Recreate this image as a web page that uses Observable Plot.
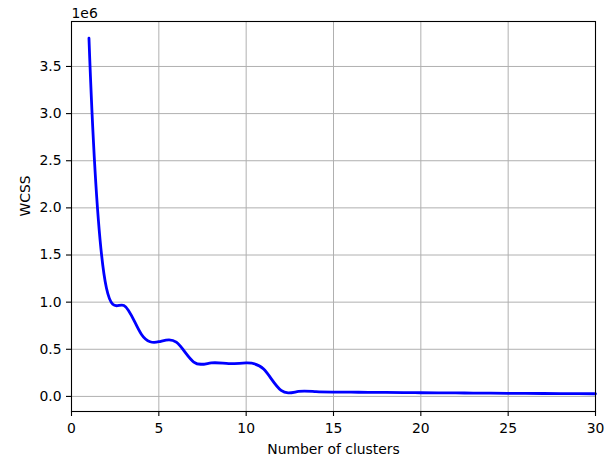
<!DOCTYPE html>
<html><head><meta charset="utf-8">
<script src="https://cdn.jsdelivr.net/npm/d3@7"></script>
<script src="https://cdn.jsdelivr.net/npm/@observablehq/plot@0.6"></script>
<style>html,body{margin:0;padding:0;background:#fff} svg{display:block}</style>
</head><body><div id="chart"></div>
<script>
const clusters = [1,2,3,4,5,6,7,8,9,10,11,12,13,14,15,16,17,18,19,20,21,22,23,24,25,26,27,28,29,30];
const wcss = [3800000,1150000,965000,660000,580000,575000,365000,355000,348000,355000,290000,64000,53000,50000,46000,45000,43000,42000,40000,39000,38000,37000,35000,34000,33000,32000,31000,30000,29000,28000];
const xTicks = [0,5,10,15,20,25,30];
const yTicks = [0,500000,1000000,1500000,2000000,2500000,3000000,3500000];
const xLabel = "Number of clusters";
const yLabel = "WCSS";
const yExponent = "1e6";

const data = clusters.map((k, i) => ({k, w: wcss[i]}));

// Cubic spline with "not-a-knot" end conditions, as a d3-style curve for Plot
function notAKnot(context) {
  let xs, ys;
  return {
    areaStart() {}, areaEnd() {},
    lineStart() { xs = []; ys = []; },
    point(x, y) { xs.push(+x); ys.push(+y); },
    lineEnd() {
      const n = xs.length;
      if (!n) return;
      context.moveTo(xs[0], ys[0]);
      if (n < 4) { for (let i = 1; i < n; i++) context.lineTo(xs[i], ys[i]); return; }
      const h = [];
      for (let i = 0; i < n - 1; i++) h.push(xs[i + 1] - xs[i]);
      const A = Array.from({length: n}, () => new Array(n).fill(0));
      const b = new Array(n).fill(0);
      A[0][0] = h[1]; A[0][1] = -(h[0] + h[1]); A[0][2] = h[0];
      for (let i = 1; i < n - 1; i++) {
        A[i][i - 1] = h[i - 1];
        A[i][i] = 2 * (h[i - 1] + h[i]);
        A[i][i + 1] = h[i];
        b[i] = 6 * ((ys[i + 1] - ys[i]) / h[i] - (ys[i] - ys[i - 1]) / h[i - 1]);
      }
      A[n - 1][n - 3] = h[n - 2]; A[n - 1][n - 2] = -(h[n - 3] + h[n - 2]); A[n - 1][n - 1] = h[n - 3];
      for (let c = 0; c < n; c++) {
        let p = c;
        for (let r = c + 1; r < n; r++) if (Math.abs(A[r][c]) > Math.abs(A[p][c])) p = r;
        [A[c], A[p]] = [A[p], A[c]]; [b[c], b[p]] = [b[p], b[c]];
        for (let r = c + 1; r < n; r++) {
          const f = A[r][c] / A[c][c];
          if (!f) continue;
          for (let k = c; k < n; k++) A[r][k] -= f * A[c][k];
          b[r] -= f * b[c];
        }
      }
      const M = new Array(n).fill(0);
      for (let r = n - 1; r >= 0; r--) {
        let s = b[r];
        for (let k = r + 1; k < n; k++) s -= A[r][k] * M[k];
        M[r] = s / A[r][r];
      }
      for (let i = 0; i < n - 1; i++) {
        const hi = h[i], dy = (ys[i + 1] - ys[i]) / hi;
        const d0 = dy - hi * (2 * M[i] + M[i + 1]) / 6;
        const d1 = dy + hi * (M[i] + 2 * M[i + 1]) / 6;
        context.bezierCurveTo(xs[i] + hi / 3, ys[i] + d0 * hi / 3, xs[i + 1] - hi / 3, ys[i + 1] - d1 * hi / 3, xs[i + 1], ys[i + 1]);
      }
    }
  };
}

const chart = Plot.plot({
  width: 613, height: 460,
  marginLeft: 71, marginRight: 18, marginTop: 21, marginBottom: 49,
  style: {fontFamily: "DejaVu Sans", fontSize: "13.9px", color: "#000", background: "#fff"},
  x: {domain: [0, 30]},
  y: {domain: [-160000, 3977000]},
  marks: [
    Plot.gridX(xTicks, {stroke: "#b0b0b0", strokeOpacity: 1, strokeWidth: 1}),
    Plot.gridY(yTicks, {stroke: "#b0b0b0", strokeOpacity: 1, strokeWidth: 1}),
    Plot.line(data, {x: "k", y: "w", curve: notAKnot, stroke: "#0000ff", strokeWidth: 2.8}),
    Plot.frame({stroke: "#000", strokeWidth: 1.1}),
    Plot.axisX(xTicks, {tickSize: 5, tickPadding: 7, label: null, stroke: "#000", strokeWidth: 1.1}),
    Plot.axisY(yTicks, {tickSize: 5, tickPadding: 5, label: null, stroke: "#000", strokeWidth: 1.1, tickFormat: d => (d / 1e6).toFixed(1)}),
    Plot.text([yExponent], {text: d => d, frameAnchor: "top-left", dy: -4, textAnchor: "start", lineAnchor: "bottom"}),
    Plot.text([yLabel], {text: d => d, frameAnchor: "left", dx: -46, rotate: -90}),
    Plot.text([xLabel], {text: d => d, frameAnchor: "bottom", dy: 42.5, lineAnchor: "bottom"})
  ]
});
document.getElementById("chart").append(chart);
</script>
</body></html>
